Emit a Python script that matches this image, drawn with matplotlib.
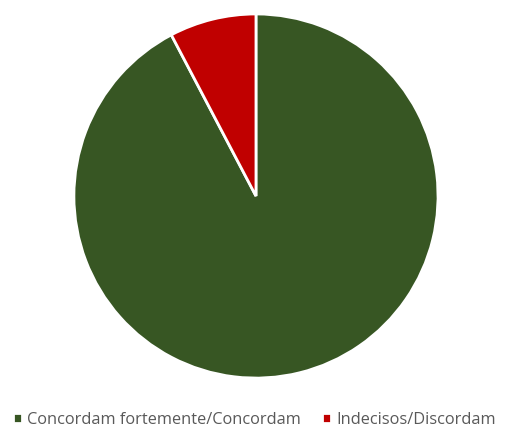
import matplotlib.pyplot as plt

categorias = ["Concordam fortemente/Concordam", "Indecisos/Discordam"]
valores = [92.3, 7.7]
cores = ["#375623", "#C00000"]

fig = plt.figure(figsize=(5.09, 4.28), dpi=100)
ax = fig.add_axes([0.1434, 0.1145, 0.719, 0.855])

ax.pie(valores, colors=cores, startangle=90, counterclock=False, radius=1,
       wedgeprops=dict(edgecolor="white", linewidth=2))
ax.set_xlim(-1.005, 1.005)
ax.set_ylim(-1.005, 1.005)
ax.set_aspect("equal")

fig.legend(categorias, loc="lower center", bbox_to_anchor=(0.5, -0.035), ncol=2,
           frameon=False, handlelength=0.55, handleheight=0.55, handletextpad=0.3,
           columnspacing=1.3, prop={"family": "Open Sans", "size": 11.8},
           labelcolor="#595959")

fig.savefig("out.png", dpi=100)
